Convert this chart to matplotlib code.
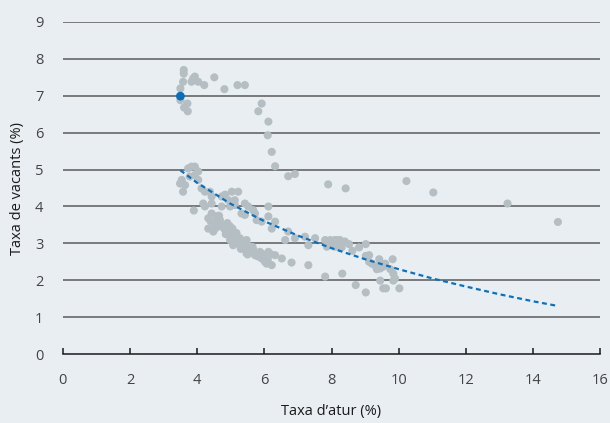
import matplotlib
matplotlib.use("Agg")
import matplotlib.pyplot as plt

# Unemployment rate (x) and vacancy rate (y)
atur = [
    # upper cluster
    3.60, 3.60, 3.58, 3.88, 3.93, 3.83, 4.03, 4.21, 4.51, 4.81, 5.20, 5.42,
    3.50, 3.50, 3.71, 3.61, 3.72, 5.92, 5.82, 6.12, 6.10, 6.22, 6.32, 6.71, 6.91,
    7.90, 8.42, 10.23, 11.03, 13.24, 14.74,
    # main cluster upper branch
    3.83, 3.93, 3.73, 4.03, 3.54, 3.49, 3.64, 3.58, 3.78, 4.03, 3.93,
    4.13, 4.23, 4.38, 4.43, 4.18, 3.90, 4.23, 4.43, 4.73, 4.83, 5.03, 5.22,
    4.93, 5.12, 4.73, 4.98, 5.12, 5.42, 5.52, 5.67, 5.72, 5.32, 5.42, 6.12,
    6.12, 5.77, 5.92, 6.32, 6.22, 6.71, 6.91, 6.62, 7.21, 7.51, 7.81, 8.15,
    7.31, 7.86, 8.20, 7.31, 7.81,
    # main cluster lower branch
    4.43, 4.33, 4.58, 4.68, 4.33, 4.53, 4.73, 4.48, 4.98, 5.03, 4.93, 5.17,
    4.98, 5.17, 5.27, 5.47, 5.07, 5.32, 5.42, 5.57, 5.47, 5.67, 5.72, 5.87,
    5.92, 6.12, 6.02, 6.22, 6.32, 6.52, 6.81, 6.07, 4.60, 4.90, 5.10, 5.30,
    5.60, 5.80, 6.00,
    4.50, 4.60, 4.80, 4.85, 5.00, 5.10, 5.20, 5.35, 5.50, 5.60, 5.75, 5.85,
    6.00, 6.10, 5.30, 5.50, 6.20, 4.40, 4.65, 4.90, 5.05, 5.25, 5.65, 5.95,
    # right part of main cluster
    7.96, 8.10, 8.25, 8.30, 8.10, 8.52, 8.62, 8.82, 9.02, 9.02, 9.12, 9.12,
    9.32, 9.42, 9.45, 9.54, 9.82, 9.84, 9.89, 9.84, 9.45, 9.54, 9.62, 10.02,
    8.32, 8.72, 9.02, 9.20, 9.35, 9.60, 9.75, 8.00, 8.40,
]
vacants = [
    7.70, 7.60, 7.38, 7.47, 7.52, 7.38, 7.38, 7.29, 7.50, 7.18, 7.29, 7.29,
    7.20, 6.88, 6.79, 6.68, 6.58, 6.79, 6.58, 6.30, 5.93, 5.48, 5.09, 4.82, 4.88,
    4.60, 4.49, 4.69, 4.38, 4.08, 3.58,
    5.08, 5.08, 5.03, 4.95, 4.72, 4.62, 4.58, 4.40, 4.81, 4.72, 4.85,
    4.49, 4.40, 4.40, 4.27, 4.08, 3.89, 4.00, 4.08, 4.27, 4.32, 4.40, 4.40,
    4.17, 4.17, 4.00, 4.00, 4.04, 4.08, 4.00, 3.90, 3.81, 3.81, 3.77, 4.00,
    3.73, 3.63, 3.59, 3.59, 3.40, 3.32, 3.14, 3.09, 3.18, 3.14, 3.09, 3.09,
    2.95, 2.91, 2.91, 2.41, 2.10,
    3.81, 3.68, 3.73, 3.63, 3.40, 3.40, 3.50, 3.32, 3.46, 3.32, 3.23, 3.28,
    3.09, 3.09, 3.14, 3.09, 2.95, 2.95, 2.86, 2.91, 2.73, 2.82, 2.68, 2.77,
    2.59, 2.77, 2.50, 2.41, 2.68, 2.59, 2.48, 2.45, 3.55, 3.35, 3.20, 3.00,
    2.85, 2.65, 2.55,
    3.55, 3.45, 3.40, 3.25, 3.20, 3.15, 3.00, 3.00, 2.95, 2.80, 2.75, 2.65,
    2.60, 2.55, 2.85, 2.70, 2.70, 3.60, 3.75, 3.55, 3.40, 3.10, 2.90, 2.70,
    3.09, 3.09, 3.09, 2.89, 2.91, 2.98, 2.80, 2.89, 2.98, 2.66, 2.68, 2.50,
    2.38, 2.57, 2.32, 2.37, 2.57, 2.18, 2.05, 1.99, 1.99, 1.78, 1.78, 1.78,
    2.18, 1.87, 1.67, 2.45, 2.30, 2.45, 2.30, 3.00, 3.05,
]

# Highlighted (latest) observation
darrer_atur = [3.50]
darrer_vacants = [6.99]

# Logarithmic trend line
tend_x = [3.5, 4, 5, 6, 7, 8, 9, 10, 11, 12, 13, 14, 14.7]
tend_y = [4.98, 4.64, 4.07, 3.60, 3.21, 2.87, 2.57, 2.30, 2.05, 1.83, 1.62, 1.43, 1.31]

x_ticks = [0, 2, 4, 6, 8, 10, 12, 14, 16]
y_ticks = [0, 1, 2, 3, 4, 5, 6, 7, 8, 9]

bg = "#e9eef2"
plt.rcParams['font.family'] = ['Open Sans', 'DejaVu Sans']

fig = plt.figure(figsize=(6.10, 4.23), dpi=100, facecolor=bg)
ax = fig.add_axes([0.103, 0.163, 0.881, 0.785], facecolor=bg)

for yv in y_ticks[1:]:
    ax.axhline(yv, color="#5a5a5a", lw=1.1, zorder=1)

ax.scatter(atur, vacants, s=34, color="#b4bec3", edgecolors="none", zorder=2)
ax.plot(tend_x, tend_y, color="#0a72bd", lw=1.6, dashes=(2.2, 1.6), zorder=3)
ax.scatter(darrer_atur, darrer_vacants, s=40, color="#0a6fb7", edgecolors="none", zorder=4)

ax.set_xlim(0, 16)
ax.set_ylim(0, 9)
ax.set_xticks(x_ticks)
ax.set_yticks(y_ticks)

for s in ["top", "right", "left"]:
    ax.spines[s].set_visible(False)
ax.spines["bottom"].set_color("#1a1a1a")
ax.spines["bottom"].set_linewidth(1.1)

ax.tick_params(axis="x", direction="in", length=4, width=1.1, color="#1a1a1a",
               pad=14, labelsize=10.5, labelcolor="#444444")
ax.tick_params(axis="y", length=0, pad=14, labelsize=10.5, labelcolor="#444444")

ax.set_xlabel("Taxa d’atur (%)", fontsize=10.5, color="#1a1a1a", labelpad=11)
ax.set_ylabel("Taxa de vacants (%)", fontsize=10.5, color="#1a1a1a", labelpad=7)

fig.savefig("out.png", dpi=100, facecolor=bg)
